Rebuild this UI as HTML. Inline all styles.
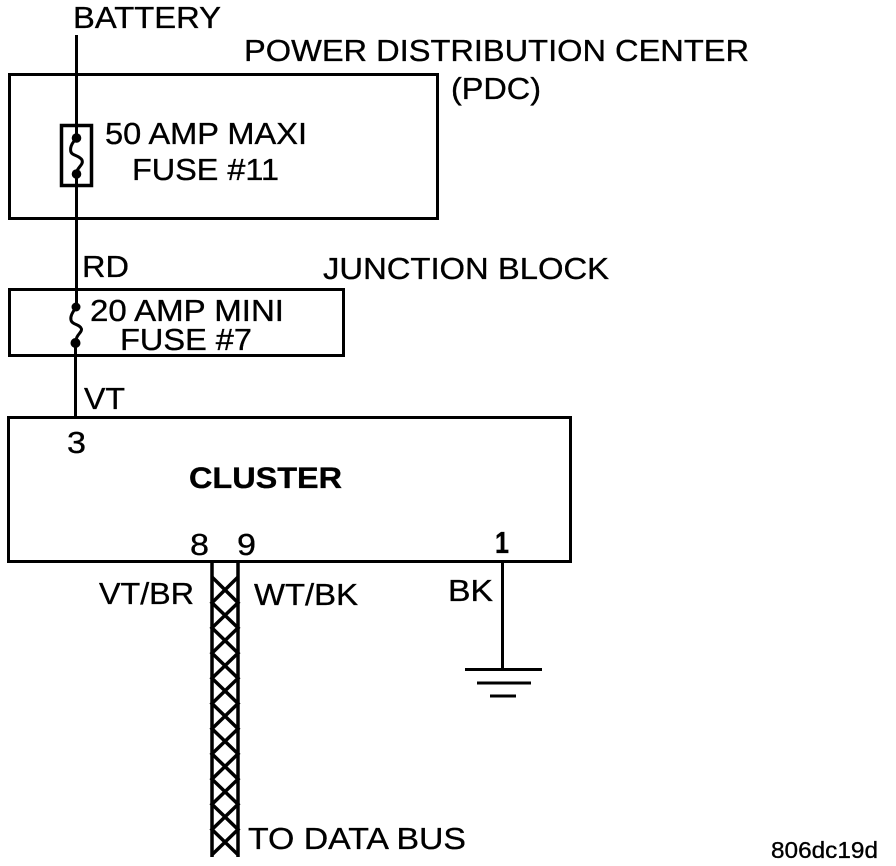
<!DOCTYPE html>
<html>
<head>
<meta charset="utf-8">
<style>
html,body{margin:0;padding:0;background:#fff;}
svg{display:block;}
text{font-family:"Liberation Sans",sans-serif;fill:#000;stroke:#000;stroke-width:.35px;}
</style>
</head>
<body>
<svg width="896" height="866" viewBox="0 0 896 866" xmlns="http://www.w3.org/2000/svg">
<g fill="none" stroke="#000" stroke-width="3">
  <rect x="9.5" y="74.5" width="428" height="144"/>
  <rect x="9.5" y="289.5" width="334" height="66"/>
  <rect x="8.5" y="417.5" width="562" height="144"/>
  <rect x="61.5" y="125.5" width="30" height="60" stroke-width="3.5"/>
  <path d="M76.5 35V138M76.500 174V307M75.500 343V417"/>
  <path d="M76.700 138C73 142 70 146 70.700 151C71.500 156 79 155 82 160C84 165 77 167 76 174" stroke-width="3"/>
  <path d="M76 307C73 312 70 316 71 320C72 325 80 324 81.500 329C82 333 76 334 75.500 343" stroke-width="3"/>
  <path d="M502.500 562V668"/>
  <path d="M465 669.500H542M477 683H531M490 696H516"/>
  <path d="M212 562V857M238 562V857" stroke-width="3.500"/>
  <path stroke-width="3.500" d="M212 577 238 602.700 212 627.900 238 653.100 212 678.300 238 703.500 212 728.700 238 753.900 212 779.100 238 804.300 212 829.500 238 854.700M238 577 212 602.700 238 627.900 212 653.100 238 678.300 212 703.500 238 728.700 212 753.900 238 779.100 212 804.300 238 829.500 212 854.700"/>
</g>
<g fill="#000">
  <circle cx="76.500" cy="138" r="4.800"/>
  <circle cx="76.500" cy="174" r="4.800"/>
  <circle cx="76" cy="307" r="4.500"/>
  <circle cx="75.500" cy="343" r="5"/>
</g>
<g font-size="31">
  <text x="73" y="28" textLength="148" lengthAdjust="spacingAndGlyphs">BATTERY</text>
  <text x="244" y="61" textLength="505" lengthAdjust="spacingAndGlyphs">POWER DISTRIBUTION CENTER</text>
  <text x="451" y="99" textLength="90" lengthAdjust="spacingAndGlyphs">(PDC)</text>
  <text x="105" y="144" textLength="202" lengthAdjust="spacingAndGlyphs">50 AMP MAXI</text>
  <text x="132" y="180" textLength="147" lengthAdjust="spacingAndGlyphs">FUSE #11</text>
  <text x="82" y="277" textLength="47" lengthAdjust="spacingAndGlyphs">RD</text>
  <text x="323" y="279" textLength="286" lengthAdjust="spacingAndGlyphs">JUNCTION BLOCK</text>
  <text x="90" y="321" textLength="194" lengthAdjust="spacingAndGlyphs">20 AMP MINI</text>
  <text x="120" y="350" textLength="132" lengthAdjust="spacingAndGlyphs">FUSE #7</text>
  <text x="84" y="409" textLength="41" lengthAdjust="spacingAndGlyphs">VT</text>
  <text x="67" y="453" textLength="19" lengthAdjust="spacingAndGlyphs">3</text>
  <text x="189" y="488" font-size="30" font-weight="bold" textLength="153" lengthAdjust="spacingAndGlyphs">CLUSTER</text>
  <text x="190" y="555" textLength="19" lengthAdjust="spacingAndGlyphs">8</text>
  <text x="237" y="555" textLength="19" lengthAdjust="spacingAndGlyphs">9</text>
  <text x="495" y="553" font-weight="bold" textLength="14" lengthAdjust="spacingAndGlyphs">1</text>
  <text x="99" y="604" textLength="95" lengthAdjust="spacingAndGlyphs">VT/BR</text>
  <text x="254" y="605" textLength="104" lengthAdjust="spacingAndGlyphs">WT/BK</text>
  <text x="448" y="601" textLength="45" lengthAdjust="spacingAndGlyphs">BK</text>
  <text x="248" y="849" textLength="218" lengthAdjust="spacingAndGlyphs">TO DATA BUS</text>
</g>
<text x="771" y="858" font-size="23.500" textLength="107" lengthAdjust="spacingAndGlyphs">806dc19d</text>
</svg>
</body>
</html>
